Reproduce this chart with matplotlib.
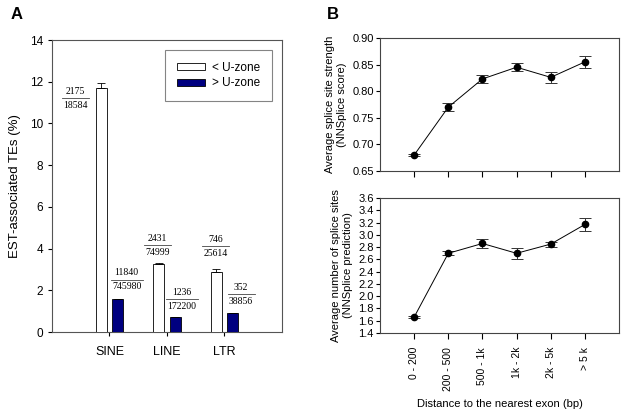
import matplotlib
matplotlib.use('Agg')
import matplotlib.pyplot as plt
import numpy as np

plt.rcParams.update({
    'font.family': ['Liberation Sans', 'DejaVu Sans'],
    'font.size': 8.5,
    'axes.linewidth': 0.8,
    'xtick.direction': 'out',
    'ytick.direction': 'out',
    'xtick.major.size': 3,
    'ytick.major.size': 3,
    'xtick.major.width': 0.8,
    'ytick.major.width': 0.8,
})

# ---------------- data: panel A ----------------
te_classes = ['SINE', 'LINE', 'LTR']
below_uzone = [11.70, 3.25, 2.90]
below_err = [0.25, 0.05, 0.10]
above_uzone = [1.56, 0.70, 0.89]
above_err = [0.02, 0.02, 0.03]
below_num = ['2175', '2431', '746']
below_den = ['18584', '74999', '25614']
above_num = ['11840', '1236', '352']
above_den = ['745980', '172200', '38856']

# ---------------- data: panel B ----------------
dist_bins = ['0 - 200', '200 - 500', '500 - 1k', '1k - 2k', '2k - 5k', '> 5 k']
strength = [0.680, 0.770, 0.823, 0.845, 0.826, 0.855]
strength_err = [0.002, 0.007, 0.008, 0.008, 0.010, 0.011]
n_sites = [1.66, 2.70, 2.86, 2.70, 2.85, 3.17]
n_sites_err = [0.02, 0.03, 0.08, 0.09, 0.04, 0.10]

navy = '#000080'

fig = plt.figure(figsize=(6.23, 4.15), dpi=100)

# ============================================================
# Panel A: bar chart
# ============================================================
axA = fig.add_axes([0.0835, 0.20, 0.369, 0.7036])
x = np.arange(1, len(te_classes) + 1)
w = 0.19
off = 0.145
axA.bar(x - off, below_uzone, w, color='white', edgecolor='black', lw=0.6,
        yerr=[np.zeros(3), below_err], capsize=3,
        error_kw=dict(elinewidth=0.6, capthick=0.6, ecolor='black'),
        label='< U-zone', zorder=3)
axA.bar(x + off, above_uzone, w, color=navy, edgecolor='black', lw=0.6,
        yerr=[np.zeros(3), above_err], capsize=3,
        error_kw=dict(elinewidth=0.6, capthick=0.6, ecolor='black'),
        label='> U-zone', zorder=3)

axA.set_xlim(0, 4)
axA.set_ylim(0, 14)
axA.set_yticks(np.arange(0, 15, 2))
axA.set_xticks(x)
axA.set_xticklabels(te_classes, fontsize=9)
axA.tick_params(axis='x', pad=7)
axA.set_ylabel('EST-associated TEs (%)', fontsize=9.5, labelpad=6)
for s in axA.spines.values():
    s.set_color('#555555')

# fraction labels (count / total) beside each bar
frac_x = [(0.40, 1.84, 2.85), (1.30, 2.26, 3.29)]
frac_y = [(11.2, 4.17, 4.10), (2.50, 1.58, 1.82)]
for nums, dens, fx, fy in [(below_num, below_den, frac_x[0], frac_y[0]),
                           (above_num, above_den, frac_x[1], frac_y[1])]:
    for n, d, xx, yy in zip(nums, dens, fx, fy):
        axA.annotate(n, (xx, yy), xytext=(0, 1.8), textcoords='offset points',
                     ha='center', va='bottom', fontsize=7,
                     family=['Liberation Serif', 'DejaVu Serif'])
        axA.annotate(d, (xx, yy), xytext=(0, -1.8), textcoords='offset points',
                     ha='center', va='top', fontsize=7,
                     family=['Liberation Serif', 'DejaVu Serif'])
        hw = len(d) * 0.043 + 0.02
        axA.plot([xx - hw, xx + hw], [yy, yy], color='#444444', lw=0.6)

leg = axA.legend(loc='upper right', bbox_to_anchor=(0.957, 0.966), fontsize=8.5,
                 frameon=True, fancybox=False, edgecolor='#666666',
                 handlelength=2.4, handleheight=0.55, borderpad=1.0,
                 borderaxespad=0, labelspacing=0.3, handletextpad=0.6)
leg.get_frame().set_linewidth(0.8)

fig.text(0.017, 0.955, 'A', fontsize=12, fontweight='bold')

# ============================================================
# Panel B: line plots with error bars
# ============================================================
xb = np.arange(len(dist_bins))
axT = fig.add_axes([0.61, 0.588, 0.3836, 0.3205])
axT.errorbar(xb, strength, yerr=strength_err, fmt='o-', color='black', ms=4.5,
             lw=0.7, elinewidth=0.7, ecolor='#333333', capsize=4, capthick=0.7)
axT.set_xlim(-1, 6)
axT.set_ylim(0.65, 0.90)
axT.set_yticks(np.arange(0.65, 0.901, 0.05))
axT.set_yticklabels(['%.2f' % v for v in np.arange(0.65, 0.901, 0.05)])
axT.set_xticks(xb)
axT.set_xticklabels([])
axT.tick_params(axis='x', length=4)
axT.set_ylabel('Average splice site strength\n(NNSplice score)', fontsize=8)

axBt = fig.add_axes([0.61, 0.1976, 0.3836, 0.325])
axBt.errorbar(xb, n_sites, yerr=n_sites_err, fmt='o-', color='black', ms=4.5,
              lw=0.7, elinewidth=0.7, ecolor='#333333', capsize=4, capthick=0.7)
axBt.set_xlim(-1, 6)
axBt.set_ylim(1.4, 3.6)
axBt.set_yticks(np.arange(1.4, 3.61, 0.2))
axBt.set_yticklabels(['%.1f' % v for v in np.arange(1.4, 3.61, 0.2)])
axBt.set_xticks(xb)
axBt.set_xticklabels(dist_bins, rotation=90, fontsize=7.5)
axBt.tick_params(axis='x', length=4, pad=6)
axBt.set_ylabel('Average number of splice sites\n(NNSplice prediction)', fontsize=8)
axBt.set_xlabel('Distance to the nearest exon (bp)', fontsize=8, labelpad=6)

for ax in (axT, axBt):
    ax.tick_params(axis='y', labelsize=8, pad=1.5)
    for s in ax.spines.values():
        s.set_color('#444444')

fig.text(0.525, 0.955, 'B', fontsize=12, fontweight='bold')

fig.savefig('out.png', dpi=100)
